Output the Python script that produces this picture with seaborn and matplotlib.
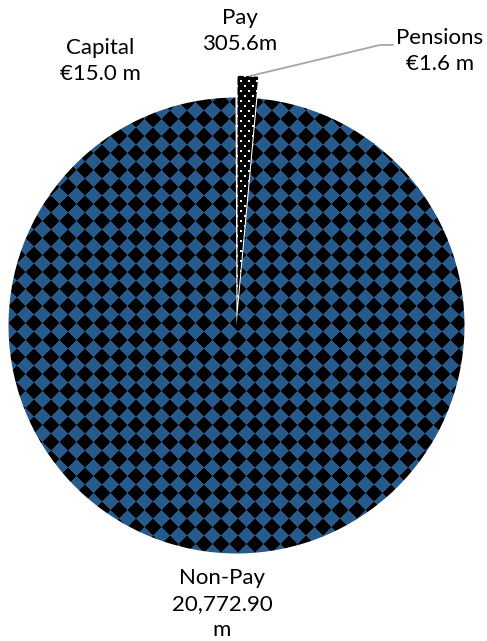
import numpy as np
import matplotlib
matplotlib.use("Agg")
import matplotlib.pyplot as plt
import seaborn as sns

# chart data (EUR m)
categories = ["Pay", "Pensions", "Non-Pay", "Capital"]
values = [305.6, 1.6, 20772.9, 15.0]
label_texts = ["Pay\n305.6m", "Pensions\n€1.6 m", "Non-Pay\n20,772.90\nm", "Capital\n€15.0 m"]

sns.set_theme(style="white")
plt.rcParams['font.family'] = ['Lato', 'DejaVu Sans']

W, H = 487, 641
fig = plt.figure(figsize=(W / 100, H / 100), dpi=100)
ax = fig.add_axes([0, 0, 1, 1])

blue = "#265A8B"
cx, cy, r = 236.5, H - 325.5, 228
# explode is in data units here (pie offsets by expl, not expl*radius)
wedges, _ = ax.pie(values, startangle=90, counterclock=False,
                   explode=[0.095 * r, 0, 0, 0], center=(cx, cy), radius=r,
                   colors=["black", "black", blue, "black"],
                   wedgeprops=dict(edgecolor="white", linewidth=2),
                   frame=True)
ax.set_xlim(0, W)
ax.set_ylim(0, H)
ax.set_aspect("equal")
ax.axis("off")

# diamond checker fill for Non-Pay
yy, xx = np.mgrid[0:H, 0:W]
P = 17
xm = (xx % P) - P / 2 + 0.5
ym = (yy % P) - P / 2 + 0.5
black = (np.abs(xm) + np.abs(ym)) >= P / 2
rgb = np.array(matplotlib.colors.to_rgb(blue))
img = np.zeros((H, W, 3))
img[~black] = rgb
im = ax.imshow(img, extent=(0, W, 0, H), origin="upper", interpolation="nearest",
               zorder=wedges[2].get_zorder() + 0.1)
im.set_clip_path(wedges[2])

# dotted fill for Pay
dots = np.zeros((H, W, 3))
mask = ((xx % 8 < 2) & (yy % 10 < 2)) | (((xx + 4) % 8 < 2) & ((yy + 5) % 10 < 2))
dots[mask] = 1.0
im2 = ax.imshow(dots, extent=(0, W, 0, H), origin="upper", interpolation="nearest",
                zorder=wedges[0].get_zorder() + 0.1)
im2.set_clip_path(wedges[0])
ax.set_xlim(0, W)
ax.set_ylim(0, H)

# leader line for Pensions
ax.plot([250, 380, 393], [H - 76, H - 45, H - 45], color="#A6A6A6", lw=1.3, zorder=5)

txt = dict(ha="center", va="center", fontsize=16, color="black", linespacing=1.4, zorder=6)
ax.text(240, H - 31, label_texts[0], **txt)
ax.text(440, H - 51, label_texts[1], **txt)
ax.text(222, H - 604, label_texts[2], **txt)
ax.text(100, H - 61, label_texts[3], **txt)

fig.savefig("out.png", dpi=100)
